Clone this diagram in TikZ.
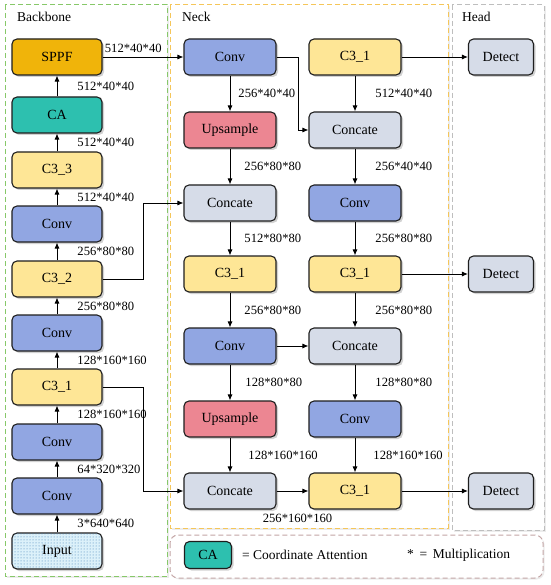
\documentclass[tikz,border=0pt]{standalone}
\usepackage{fontspec}
\setmainfont{Liberation Serif}
\usepackage{tikz}
\usetikzlibrary{arrows.meta,shadows,patterns}

\definecolor{sppfcol}{RGB}{240,180,10}
\definecolor{cacol}{RGB}{45,192,175}
\definecolor{c3col}{RGB}{254,230,150}
\definecolor{convcol}{RGB}{145,166,226}
\definecolor{upcol}{RGB}{236,134,146}
\definecolor{catcol}{RGB}{214,220,232}
\definecolor{incol}{RGB}{220,241,250}
\definecolor{dotcol}{RGB}{60,120,180}
\definecolor{edgecol}{RGB}{30,30,30}
\definecolor{bbcol}{RGB}{135,200,105}
\definecolor{neckcol}{RGB}{245,198,90}
\definecolor{headcol}{RGB}{190,190,190}
\definecolor{legcol}{RGB}{195,165,165}

\begin{document}
\begin{tikzpicture}[x=1pt, y=-1pt,
    blk/.style={draw=edgecol, line width=1.1pt, rounded corners=5pt,
      minimum width=90pt, minimum height=36pt,
      font=\fontsize{14}{16}\selectfont,
      drop shadow={shadow xshift=2pt, shadow yshift=-2pt, opacity=0.35}},
    nblk/.style={blk, minimum width=92pt},
    lbl/.style={anchor=west, inner sep=0pt, font=\fontsize{12.6}{14}\selectfont, xshift=#1},
    lbl/.default=20pt,
    ttl/.style={anchor=west, inner sep=0pt, font=\fontsize{13.5}{16}\selectfont},
    panel/.style={line width=1pt, dash pattern=on 5pt off 3pt, fill=white,
      drop shadow={shadow xshift=1.5pt, shadow yshift=-1.5pt, opacity=0.15}},
    arr/.style={-{Latex[length=6pt, width=5pt]}, line width=0.9pt, black}]

    % Panels
    \draw[panel, draw=bbcol] (5,5) rectangle (167,576);
    \draw[panel, draw=neckcol] (170,5) rectangle (448,528);
    \draw[panel, draw=headcol] (452,5) rectangle (544,530);
    \draw[panel, draw=legcol, rounded corners=8pt] (170,535) rectangle (543,578);
    \node[ttl] (tb) at (17,17) {Backbone};
    \node[ttl] (tn) at (182,17) {Neck};
    \node[ttl] (th) at (462,17) {Head};

    % Backbone
    \node[blk, fill=incol, postaction={pattern=dots, pattern color=dotcol}] (inp) at (57,551) {Input};
    \node[blk, fill=convcol] (b1) at (57,496) {Conv};
    \node[blk, fill=convcol] (b2) at (57,442) {Conv};
    \node[blk, fill=c3col] (b3) at (57,387) {C3\_1};
    \node[blk, fill=convcol] (b4) at (57,333) {Conv};
    \node[blk, fill=c3col] (b5) at (57,279) {C3\_2};
    \node[blk, fill=convcol] (b6) at (57,224) {Conv};
    \node[blk, fill=c3col] (b7) at (57,170) {C3\_3};
    \node[blk, fill=cacol] (b8) at (57,115) {CA};
    \node[blk, fill=sppfcol] (b9) at (57,57) {SPPF};

    % Neck
    \node[nblk, fill=convcol] (n1) at (230,57) {Conv};
    \node[nblk, fill=upcol] (n2) at (230,130) {Upsample};
    \node[nblk, fill=catcol] (n3) at (230,203) {Concate};
    \node[nblk, fill=c3col] (n4) at (230,274) {C3\_1};
    \node[nblk, fill=convcol] (n5) at (230,346) {Conv};
    \node[nblk, fill=upcol] (n6) at (230,419) {Upsample};
    \node[nblk, fill=catcol] (n7) at (230,491) {Concate};

    \node[nblk, fill=c3col] (m1) at (355,57) {C3\_1};
    \node[nblk, fill=catcol] (m2) at (355,130) {Concate};
    \node[nblk, fill=convcol] (m3) at (355,203) {Conv};
    \node[nblk, fill=c3col] (m4) at (355,274) {C3\_1};
    \node[nblk, fill=catcol] (m5) at (355,346) {Concate};
    \node[nblk, fill=convcol] (m6) at (355,419) {Conv};
    \node[nblk, fill=c3col] (m7) at (355,491) {C3\_1};

    % Head
    \node[blk, fill=catcol, minimum width=65pt] (h1) at (501,57) {Detect};
    \node[blk, fill=catcol, minimum width=65pt] (h2) at (501,274) {Detect};
    \node[blk, fill=catcol, minimum width=65pt] (h3) at (501,491) {Detect};

    % Legend
    \node[blk, fill=cacol, minimum width=47pt, minimum height=27pt] (lca) at (208,555) {CA};
    \node[ttl] (lt1) at (242,555) {= Coordinate Attention};
    \node[ttl] (lt2) at (407,555) {*\, =\, Multiplication};

    % Edges: backbone
    \draw[arr] (inp) -- node[lbl] {3*640*640} (b1);
    \draw[arr] (b1) -- node[lbl] {64*320*320} (b2);
    \draw[arr] (b2) -- node[lbl] {128*160*160} (b3);
    \draw[arr] (b3) -- node[lbl] {128*160*160} (b4);
    \draw[arr] (b4) -- node[lbl] {256*80*80} (b5);
    \draw[arr] (b5) -- node[lbl] {256*80*80} (b6);
    \draw[arr] (b6) -- node[lbl] {512*40*40} (b7);
    \draw[arr] (b7) -- node[lbl] {512*40*40} (b8);
    \draw[arr] (b8) -- node[lbl] {512*40*40} (b9);
    \draw[arr] (b9) -- node[lbl=0pt, anchor=center, pos=0.38, yshift=9pt] {512*40*40} (n1);

    % Edges: neck
    \draw[arr] (n1) -- node[lbl=8pt] {256*40*40} (n2);
    \draw[arr] (n2) -- node[lbl=14pt] {256*80*80} (n3);
    \draw[arr] (n3) -- node[lbl=14pt] {512*80*80} (n4);
    \draw[arr] (n4) -- node[lbl=14pt] {256*80*80} (n5);
    \draw[arr] (n5) -- node[lbl=15pt] {128*80*80} (n6);
    \draw[arr] (n6) -- node[lbl=18pt] {128*160*160} (n7);
    \draw[arr] (m1) -- node[lbl] {512*40*40} (m2);
    \draw[arr] (m2) -- node[lbl] {256*40*40} (m3);
    \draw[arr] (m3) -- node[lbl] {256*80*80} (m4);
    \draw[arr] (m4) -- node[lbl] {256*80*80} (m5);
    \draw[arr] (m5) -- node[lbl] {128*80*80} (m6);
    \draw[arr] (m6) -- node[lbl=18pt] {128*160*160} (m7);
    \draw[arr] (n1.east) -- ++(22,0) |- (m2.west);
    \draw[arr] (b5.east) -- ++(41,0) |- (n3.west);
    \draw[arr] (b3.east) -- ++(41,0) |- (n7.west);
    \draw[arr] (n5) -- (m5);
    \draw[arr] (n7) -- node[lbl=5pt, anchor=center, yshift=-27pt] {256*160*160} (m7);

    % Edges: head
    \draw[arr] (m1) -- (h1);
    \draw[arr] (m4) -- (h2);
    \draw[arr] (m7) -- (h3);

    \useasboundingbox (0,0) rectangle (550,585);
\end{tikzpicture}
\end{document}
